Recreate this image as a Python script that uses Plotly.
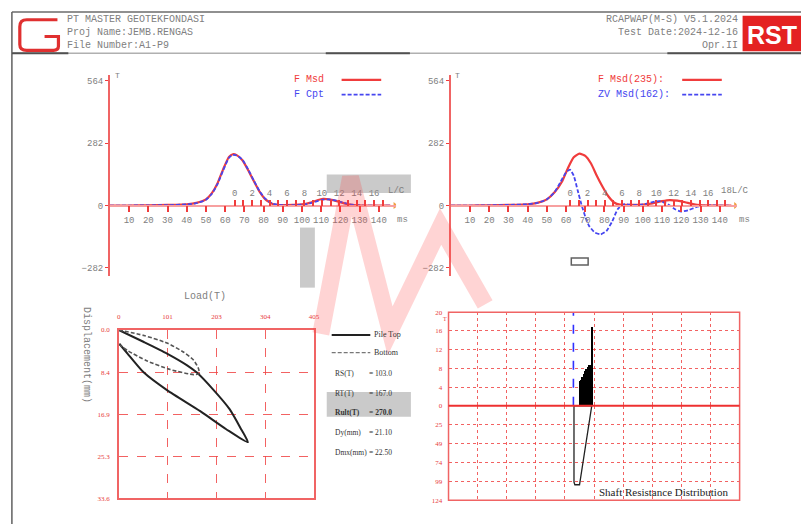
import plotly.graph_objects as go

W, H = 807, 528
def px(x): return x / W
def py(y): return 1 - y / H

# ---------------- data ----------------
# top-left: F Msd / F Cpt (T) versus time (ms)
t_left = [0, 10, 20, 30, 40, 45, 50, 53, 56, 59, 62, 64, 66, 69, 72, 75, 78, 81, 85, 90, 95, 100, 104, 108, 111, 114, 118, 122, 126, 132, 140, 146]
f_msd_left = [0, 0, 1, 3, 6, 12, 28, 55, 100, 165, 220, 232, 228, 205, 160, 110, 62, 28, 6, 2, 3, 5, 12, 24, 30, 28, 20, 10, 3, 0, 0, 0]
f_cpt_left = [0, 0, 1, 2, 5, 11, 26, 52, 97, 160, 216, 229, 227, 207, 163, 112, 64, 30, 8, 2, 2, 4, 10, 20, 27, 28, 22, 12, 4, 0, -1, 0]

# top-right: F Msd(235) and ZV Msd(162)
t_right = [0, 10, 20, 30, 40, 45, 50, 54, 58, 61, 64, 67, 70, 73, 76, 79, 82, 85, 88, 95, 100, 105, 110, 114, 118, 122, 126, 130, 140, 146]
f_msd_right = [0, 0, 1, 3, 6, 12, 28, 60, 110, 170, 218, 235, 225, 190, 135, 85, 42, 14, 4, 3, 4, 10, 20, 25, 22, 15, 7, 2, 0, 0]
t_zv = [0, 10, 20, 30, 40, 45, 50, 54, 57, 60, 62, 64, 66, 68, 70, 72, 75, 78, 81, 84, 87, 90, 95, 100, 105, 109, 113, 117, 120, 124, 128, 132, 140, 146]
zv_msd_right = [0, 0, 1, 3, 6, 12, 28, 60, 105, 150, 162, 135, 70, 5, -50, -92, -122, -130, -115, -72, -15, 6, 2, 5, 16, 20, 6, -18, -27, -20, -6, 0, 0, 0]

ms_ticks = [10, 20, 30, 40, 50, 60, 70, 80, 90, 100, 110, 120, 130, 140]
force_ticks = [-282, 0, 282, 564]
lc_ticks_left = list(range(0, 18))
lc_ticks_right = list(range(0, 19))

# bottom-left: load (T) - displacement (mm)
load_top = [0, 52, 100, 141, 162, 196, 230, 254, 268, 223, 169, 100, 52, 18, 1]
disp_top = [0, 2.4, 4.7, 7.0, 8.5, 11.9, 15.8, 19.8, 22.4, 19.8, 16.2, 12.0, 8.5, 4.7, 2.75]
load_bottom = [0, 52, 100, 134, 155, 165, 167, 155, 107, 59, 18, 1]
disp_bottom = [0, 1.1, 2.6, 4.4, 6.0, 7.6, 8.7, 8.9, 7.9, 6.2, 4.1, 2.9]
load_ticks = [0, 101, 203, 304, 405]
disp_ticks = [0, 8.4, 16.9, 25.3, 33.6]
disp_ticktext = ["0.0", "8.4", "16.9", "25.3", "33.6"]

# bottom-right: shaft resistance distribution
seg_x = [4.50, 4.545, 4.59, 4.635, 4.68, 4.725, 4.77, 4.815, 4.86, 4.905]
seg_rs = [5.3, 5.5, 6.2, 6.8, 7.3, 7.8, 8.3, 8.6, 8.7, 16.9]
cum_x = [4.31, 4.31, 4.34, 4.50, 4.92, 4.31]
cum_rs = [0, 100, 103.5, 103.5, 0, 0]
ref_x = [4.29, 4.29]
ref_y = [0, 20]
rs_up_ticks = [0, 4, 8, 12, 16, 20]
rs_down_ticks = [25, 49, 74, 99, 124]

stat_labels = ["RS(T)", "RT(T)", "Rult(T)", "Dy(mm)", "Dmx(mm)"]
stat_values = ["103.0", "167.0", "270.0", "21.10", "22.50"]
header_left = ["PT MASTER GEOTEKFONDASI", "Proj Name:JEMB.RENGAS", "File Number:A1-P9"]
header_right = ["RCAPWAP(M-S) V5.1.2024", "Test Date:2024-12-16", "Opr.II"]

# ---------------- styles ----------------
RED = "#f03c3c"
BLUE = "#4646f0"
AX_RED = "#f06464"
GRAY_TXT = "#808080"
MONO = "Liberation Mono"
SERIF = "Liberation Serif"

fig = go.Figure()

# top-left traces
fig.add_trace(go.Scatter(x=t_left, y=f_msd_left, xaxis="x", yaxis="y", mode="lines",
                         line=dict(color=RED, width=2.2, shape="spline", smoothing=0.5), hoverinfo="skip"))
fig.add_trace(go.Scatter(x=t_left, y=f_cpt_left, xaxis="x", yaxis="y", mode="lines",
                         line=dict(color=BLUE, width=1.8, dash="4px,2px", shape="spline", smoothing=0.5), hoverinfo="skip"))
fig.add_trace(go.Scatter(x=[0], y=[0], xaxis="x2", yaxis="y", mode="markers",
                         marker=dict(opacity=0), hoverinfo="skip"))
fig.add_trace(go.Scatter(x=[148.5], y=[0], xaxis="x", yaxis="y", mode="markers",
                         marker=dict(symbol="triangle-right", size=6, color="#f0a040"), hoverinfo="skip"))

# top-right traces
fig.add_trace(go.Scatter(x=t_right, y=f_msd_right, xaxis="x3", yaxis="y3", mode="lines",
                         line=dict(color=RED, width=2.2, shape="spline", smoothing=0.5), hoverinfo="skip"))
fig.add_trace(go.Scatter(x=t_zv, y=zv_msd_right, xaxis="x3", yaxis="y3", mode="lines",
                         line=dict(color=BLUE, width=1.8, dash="4px,2px", shape="spline", smoothing=0.5), hoverinfo="skip"))
fig.add_trace(go.Scatter(x=[0], y=[0], xaxis="x4", yaxis="y3", mode="markers",
                         marker=dict(opacity=0), hoverinfo="skip"))
fig.add_trace(go.Scatter(x=[148.3], y=[0], xaxis="x3", yaxis="y3", mode="markers",
                         marker=dict(symbol="triangle-right", size=6, color="#f0a040"), hoverinfo="skip"))

# bottom-left traces
fig.add_trace(go.Scatter(x=load_top, y=disp_top, xaxis="x5", yaxis="y5", mode="lines",
                         line=dict(color="#222", width=2, shape="spline", smoothing=0.6), hoverinfo="skip"))
fig.add_trace(go.Scatter(x=load_bottom, y=disp_bottom, xaxis="x5", yaxis="y5", mode="lines",
                         line=dict(color="#555", width=1.6, dash="4px,2px", shape="spline", smoothing=0.6), hoverinfo="skip"))

# bottom-right traces
fig.add_trace(go.Bar(x=seg_x, y=seg_rs, width=0.046, xaxis="x6", yaxis="y6",
                     marker=dict(color="black", line=dict(width=0)), hoverinfo="skip"))
fig.add_trace(go.Scatter(x=ref_x, y=ref_y, xaxis="x6", yaxis="y6", mode="lines",
                         line=dict(color="#3030ff", width=1.6, dash="dash"), hoverinfo="skip"))
fig.add_trace(go.Scatter(x=cum_x, y=cum_rs, xaxis="x6", yaxis="y7", mode="lines",
                         line=dict(color="#222", width=1.3), hoverinfo="skip"))

tickfont_mono = dict(family=MONO, size=9, color=GRAY_TXT)

def ms_axis(d0, d1, rng, pos):
    return dict(domain=[px(d0), px(d1)], range=rng, anchor="free", position=py(pos),
                tickmode="array", tickvals=ms_ticks, ticks="outside", ticklen=6,
                tickcolor=RED, tickwidth=1.5, showline=True, linecolor="#f7a0a0", linewidth=1.5,
                showgrid=False, zeroline=False, tickfont=tickfont_mono, fixedrange=True)

def lc_axis(d0, d1, rng, pos, over, vals):
    return dict(domain=[px(d0), px(d1)], range=rng, anchor="free", position=py(pos),
                overlaying=over, side="top", tickmode="array", tickvals=vals,
                ticktext=[str(v) if (v % 2 == 0 and v <= 16) else "" for v in vals],
                ticks="outside", ticklen=6, tickcolor=RED, tickwidth=1.5,
                showline=False, showgrid=False, zeroline=False, tickfont=tickfont_mono)

def force_axis(anchor):
    return dict(domain=[py(276), py(72)], range=[-317.6, 590.7], anchor=anchor,
                tickmode="array", tickvals=force_ticks, ticks="outside", ticklen=3,
                tickcolor=RED, showline=True, linecolor=AX_RED, linewidth=1.8,
                showgrid=False, zeroline=False, tickfont=tickfont_mono)

grid_red = "rgba(240,70,70,0.85)"
red_tick_font = dict(family=SERIF, size=7, color="#e84040")

layout = dict(
    width=W, height=H, autosize=False, margin=dict(l=0, r=0, t=0, b=0),
    paper_bgcolor="white", plot_bgcolor="rgba(0,0,0,0)", showlegend=False, bargap=0,
    xaxis=ms_axis(109, 398, [0, 149], 204.7),
    xaxis2=lc_axis(109, 398, [(109 - 235) / 8.8, (398 - 235) / 8.8], 204.7, "x", lc_ticks_left),
    yaxis=force_axis("x"),
    xaxis3=ms_axis(453.3, 742, [0, 148.8], 204.7),
    xaxis4=lc_axis(453.3, 742, [(453.3 - 574) / 8.7, (742 - 574) / 8.7], 204.7, "x3", lc_ticks_right),
    yaxis3=force_axis("x3"),
    xaxis5=dict(domain=[px(118), px(315)], range=[0, 405], anchor="y5", side="top",
                tickmode="array", tickvals=load_ticks, ticks="outside", ticklen=6,
                tickcolor="rgba(0,0,0,0)", showline=True, mirror=True, linecolor=AX_RED, linewidth=1.5,
                showgrid=True, gridcolor=grid_red, griddash="dash", gridwidth=1,
                zeroline=False, tickfont=red_tick_font),
    yaxis5=dict(domain=[py(502), py(331)], range=[33.6, 0], anchor="x5",
                tickmode="array", tickvals=disp_ticks, ticktext=disp_ticktext, ticks="outside", ticklen=6,
                tickcolor="rgba(0,0,0,0)", showline=True, mirror=True, linecolor=AX_RED, linewidth=1.5,
                showgrid=True, gridcolor=grid_red, griddash="dash", gridwidth=1,
                zeroline=False, tickfont=red_tick_font),
    xaxis6=dict(domain=[px(451), px(745)], range=[0, 10], anchor="y6", tickmode="linear", tick0=0, dtick=1,
                showticklabels=False, ticks="", showline=False, showgrid=True, gridcolor=grid_red,
                griddash="dot", gridwidth=1, zeroline=False),
    yaxis6=dict(domain=[py(408), py(313)], range=[0, 20], anchor="x6", tickmode="array",
                tickvals=rs_up_ticks, ticktext=["0", "4", "8", "12", "16", "20"], ticks="outside", ticklen=4,
                tickcolor="rgba(0,0,0,0)", showline=False, showgrid=True, gridcolor=grid_red,
                griddash="dot", gridwidth=1, zeroline=False, tickfont=red_tick_font),
    yaxis7=dict(domain=[py(504), py(408)], range=[124, 0], anchor="x6", tickmode="array",
                tickvals=rs_down_ticks, ticks="outside", ticklen=4,
                tickcolor="rgba(0,0,0,0)", showline=False, showgrid=True, gridcolor=grid_red,
                griddash="dot", gridwidth=1, zeroline=False, tickfont=red_tick_font),
)
fig.update_layout(**layout)

shapes = []
def line(x0, y0, x1, y1, color, width=1, dash=None, layer="above"):
    d = dict(type="line", xref="paper", yref="paper", x0=px(x0), y0=py(y0), x1=px(x1), y1=py(y1),
             line=dict(color=color, width=width), layer=layer)
    if dash:
        d["line"]["dash"] = dash
    shapes.append(d)

def rect(x0, y0, x1, y1, fill=None, lc=None, lw=0, layer="above"):
    shapes.append(dict(type="rect", xref="paper", yref="paper", x0=px(x0), y0=py(y1), x1=px(x1), y1=py(y0),
                       fillcolor=fill if fill else "rgba(0,0,0,0)",
                       line=dict(color=lc if lc else "rgba(0,0,0,0)", width=lw), layer=layer))

def path(pts, color, width, layer="above", cmd=None):
    if cmd is None:
        s = "M " + " L ".join(f"{px(x):.5f},{py(y):.5f}" for x, y in pts)
    else:
        s = cmd
    shapes.append(dict(type="path", xref="paper", yref="paper", path=s,
                       line=dict(color=color, width=width), layer=layer))

# frame / header
line(10, 8, 807, 8, "#909090", 2)
line(10, 8, 10, 528, "#606060", 1.5)
line(10, 50, 807, 50, "#b0b0b0", 1.5)
line(10, 50, 67, 50, "#505050", 2)
line(327, 50, 412, 50, "#505050", 2)
line(672, 50, 807, 50, "#505050", 2)

# left logo
def P(x, y): return f"{px(x):.5f},{py(y):.5f}"
logo = (f"M {P(56,16)} L {P(25,16)} Q {P(18,16)} {P(18,23)} L {P(18,41)} Q {P(18,47)} {P(25,47)} "
        f"L {P(52,47)} Q {P(57,47)} {P(57,43)} L {P(57,33)} L {P(43,33)}")
path(None, "#e03030", 3.2, cmd=logo)

# RST logo
rect(748, 12, 807, 48, fill="#e42222")

# bottom-right box and zero line
rect(451, 313, 745, 504, lc=AX_RED, lw=1.5)
line(451, 408, 745, 408, "#ee3030", 2)

# small rectangle in top-right chart
rect(575, 258, 592, 265, lc="#606060", lw=1.5)

# legend lines top
line(343, 77, 383, 77, RED, 2.2)
line(343, 92, 383, 92, BLUE, 1.8, dash="4px,2px")
line(687, 77, 727, 77, RED, 2.2)
line(687, 92, 727, 92, BLUE, 1.8, dash="4px,2px")

# legend lines bottom-left
line(333, 336, 372, 336, "#222", 2)
line(333, 354, 372, 354, "#777", 1.2, dash="4px,2px")

# watermark
gray_wm = "rgba(150,150,150,0.5)"
rect(328, 173, 413, 192, fill=gray_wm)
rect(301, 227, 316, 288, fill=gray_wm)
rect(328, 394, 413, 419, fill=gray_wm)
path([(322, 335), (352, 176), (392, 332), (443, 226), (488, 305)], "rgba(255,60,60,0.22)", 17)

fig.update_layout(shapes=shapes)

ann = []
def text(x, y, s, size=9, color=GRAY_TXT, family=MONO, xanchor="left", bold=False):
    ann.append(dict(x=px(x), y=py(y), xref="paper", yref="paper", text=(f"<b>{s}</b>" if bold else s),
                    showarrow=False, xanchor=xanchor, yanchor="middle",
                    font=dict(size=size, color=color, family=family)))

for i, s in enumerate(header_left):
    text(64, 16 + 13 * i, s, size=10)
for i, s in enumerate(header_right):
    text(745, 16 + 13 * i, s, size=10, xanchor="right")
text(778, 31, "RST", size=25, color="white", family="Liberation Sans", xanchor="center", bold=True)

# top charts annotations
text(112, 73, "T", size=8)
text(456, 73, "T", size=8)
text(405, 219, "ms", size=9, xanchor="center")
text(750, 219, "ms", size=9, xanchor="center")
text(398, 190, "L/C", size=9, xanchor="center")
text(740, 190, "18L/C", size=9, xanchor="center")
text(293, 77, "F Msd", size=10, color=RED)
text(293, 92, "F Cpt", size=10, color=BLUE)
text(600, 77, "F Msd(235):", size=10, color=RED)
text(600, 92, "ZV Msd(162):", size=10, color=BLUE)

# bottom-left annotations
text(205, 297, "Load(T)", size=10, xanchor="center")
ann.append(dict(x=px(77), y=py(407), xref="paper", yref="paper", text="Displacement(mm)", showarrow=False,
                textangle=90, font=dict(size=10, color=GRAY_TXT, family=MONO)))
text(374, 336, "Pile Top", size=8, color="#333", family=SERIF)
text(374, 354, "Bottom", size=8, color="#333", family=SERIF)
for i, (lab, val) in enumerate(zip(stat_labels, stat_values)):
    b = (lab == "Rult(T)")
    text(334, 375 + 20 * i, lab, size=7.5, color="#333", family=SERIF, bold=b)
    text(369, 375 + 20 * i, "= " + val, size=7.5, color="#333", family=SERIF, bold=b)

# bottom-right annotations
text(447, 320, "T", size=6, color="#e84040", family=SERIF, xanchor="center")
text(668, 495, "Shaft Resistance Distribution", size=11, color="#222", family=SERIF, xanchor="center")

fig.update_layout(annotations=ann)
fig.write_html("out.html", config={"displayModeBar": False},
               post_script="document.body.style.margin='0px';document.body.style.overflow='hidden';")
